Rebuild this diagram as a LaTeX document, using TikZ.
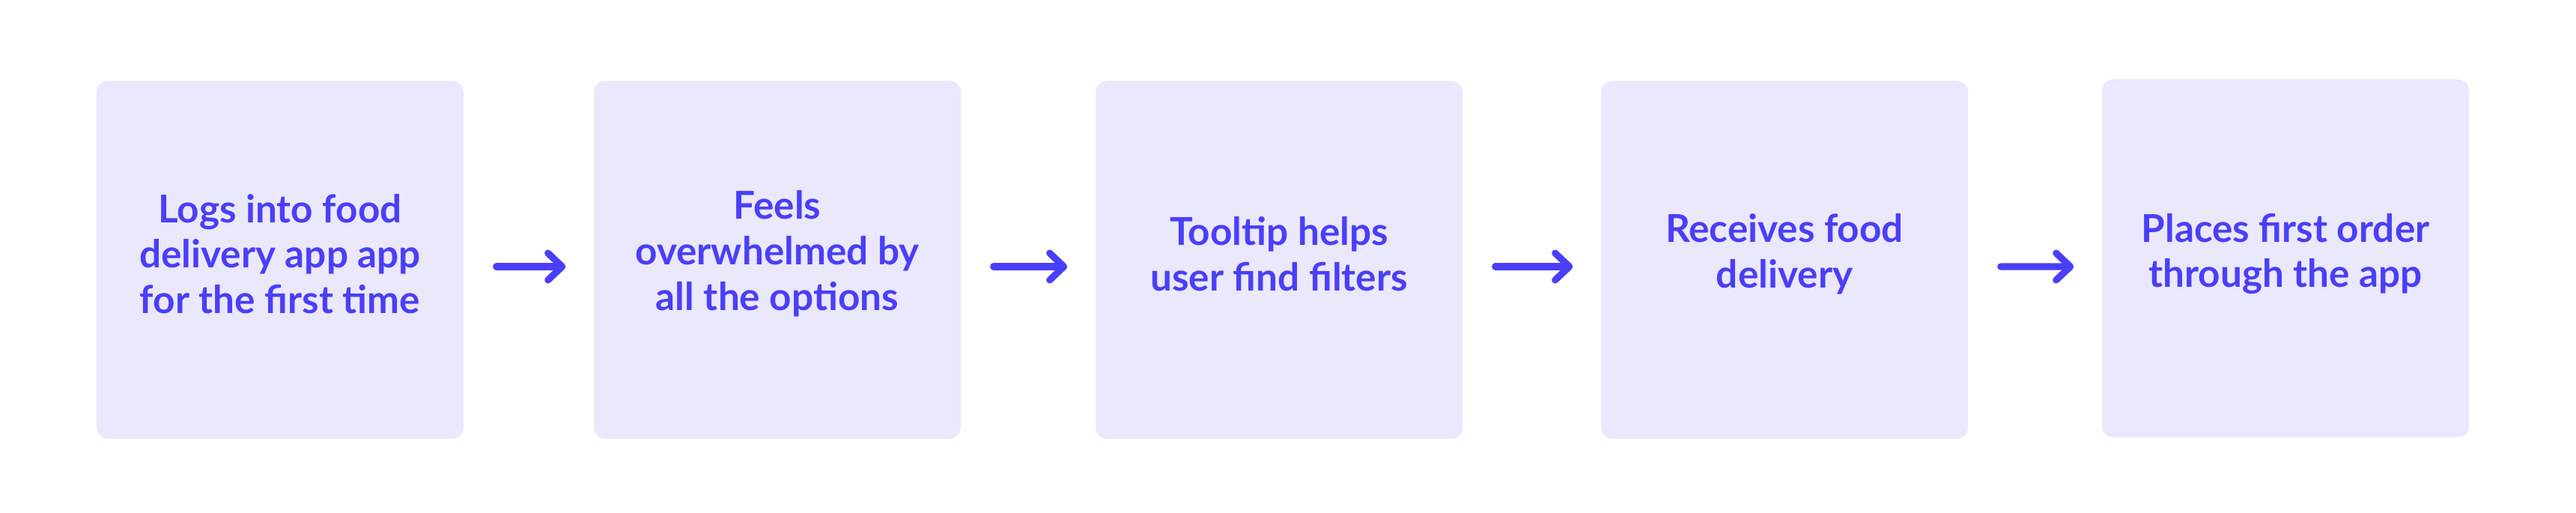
\documentclass[tikz,border=0pt]{standalone}
\usepackage{fontspec}
\setmainfont{Lato}
\usepackage{xcolor}
\usetikzlibrary{arrows.meta}
\definecolor{cardfill}{HTML}{EAE8FD}
\definecolor{cardink}{HTML}{4A3FF8}
\tikzset{
flowArrow/.style={draw=cardink, line width=2.6pt, line cap=round, line join=round,
    -{Straight Barb[length=1.9mm, width=3.6mm, line cap=round, line join=round]},
    shorten <=0.43cm, shorten >=0.37cm}}

\begin{document}
\begin{tikzpicture}
		\tikzset{card/.style = {shape=rectangle, fill=cardfill, rounded corners=1.5mm, minimum width=4.9cm, minimum height=4.78cm, inner sep=0pt}}
		\tikzset{cardtext/.style = {inner sep=0pt, align=center, text=cardink, font=\fontsize{14.6}{17.3}\selectfont\bfseries}}
		\tikzset{edge/.style = {flowArrow}}

		\useasboundingbox (0,0) rectangle (34.4,6.85);

		\node[card] (A) at (3.74,3.38) {};
		\node[card] (B) at (10.38,3.38) {};
		\node[card] (C) at (17.08,3.38) {};
		\node[card] (D) at (23.83,3.38) {};
		\node[card] (E) at (30.52,3.40) {};

		\node[cardtext] (At) at ([yshift=0.8mm]A.center) {Logs into food\\delivery app app\\for the first time};
		\node[cardtext] (Bt) at ([yshift=0.8mm]B.center) {Feels\\overwhelmed by\\all the options};
		\node[cardtext] (Ct) at ([yshift=0.8mm]C.center) {Tooltip helps\\user find filters};
		\node[cardtext] (Dt) at ([yshift=0.8mm]D.center) {Receives food\\delivery};
		\node[cardtext] (Et) at ([yshift=0.6mm]E.center) {Places first order\\through the app};

		\draw[edge] ([yshift=-0.9mm]A.east) to ([yshift=-0.9mm]B.west);
		\draw[edge] ([yshift=-0.9mm]B.east) to ([yshift=-0.9mm]C.west);
		\draw[edge] ([yshift=-0.9mm]C.east) to ([yshift=-0.9mm]D.west);
		\draw[edge] ([yshift=-0.9mm]D.east) to ([yshift=-1.1mm]E.west);
	\end{tikzpicture}
\end{document}
